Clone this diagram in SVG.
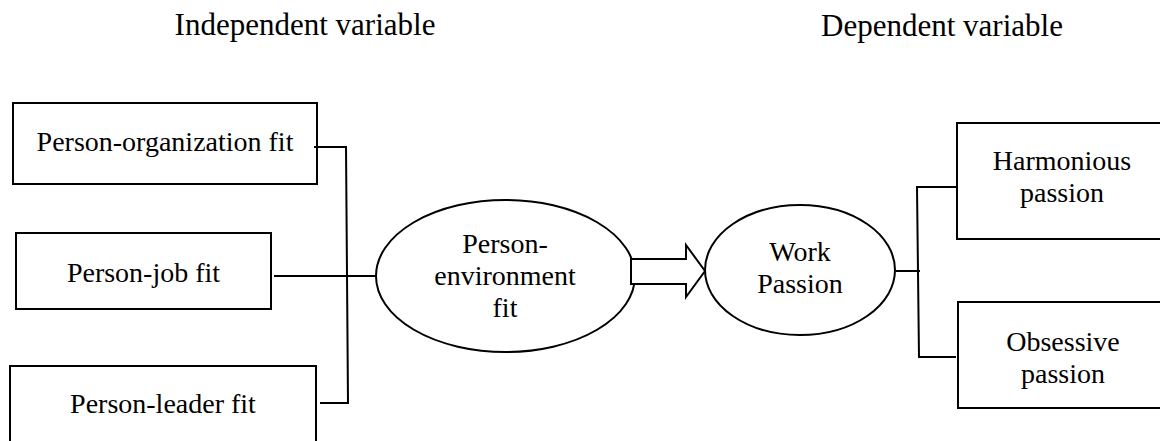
<svg xmlns="http://www.w3.org/2000/svg" width="1160" height="441" viewBox="0 0 1160 441">
<style>
.t{font-family:'Liberation Serif','Times New Roman',serif;font-size:28px;fill:#000;text-anchor:middle}
.h{font-size:31px}
.b{fill:#fff;stroke:#000;stroke-width:2}
.c{fill:none;stroke:#000;stroke-width:2}
</style>
<rect width="1160" height="441" fill="#fff"/>
<text class="t h" x="305" y="35">Independent variable</text>
<text class="t h" x="942" y="36">Dependent variable</text>
<g id="po">
<rect class="b" x="13" y="103" width="304" height="81"/>
<text class="t" x="165" y="151">Person-organization fit</text>
</g>
<g id="pj">
<rect class="b" x="16" y="233" width="255" height="76"/>
<text class="t" x="143.5" y="282">Person-job fit</text>
</g>
<g id="pl">
<rect class="b" x="10" y="366" width="306" height="90"/>
<text class="t" x="163" y="413">Person-leader fit</text>
</g>
<g id="pe">
<ellipse class="b" cx="505.5" cy="276" rx="129.5" ry="76"/>
<text class="t" x="505" y="253">Person-</text>
<text class="t" x="505" y="285">environment</text>
<text class="t" x="505" y="317">fit</text>
</g>
<g id="wp">
<ellipse class="b" cx="800" cy="270" rx="95" ry="65"/>
<text class="t" x="800" y="261">Work</text>
<text class="t" x="800" y="293">Passion</text>
</g>
<g id="hp">
<rect class="b" x="957" y="123" width="210" height="116"/>
<text class="t" x="1062" y="170">Harmonious</text>
<text class="t" x="1062" y="202">passion</text>
</g>
<g id="op">
<rect class="b" x="958" y="302" width="210" height="106"/>
<text class="t" x="1063" y="351">Obsessive</text>
<text class="t" x="1063" y="383">passion</text>
</g>
<g id="connectors">
<path class="c" d="M314 147 H346 L348 403 H320"/>
<path class="c" d="M274 276 H376"/>
<path class="b" d="M631 259 H686 V245 L705 271 L686 297 V284 H631 Z"/>
<path class="c" d="M896 271 H920"/>
<path class="c" d="M958 187 H917 L919 357 H956"/>
</g>
</svg>
